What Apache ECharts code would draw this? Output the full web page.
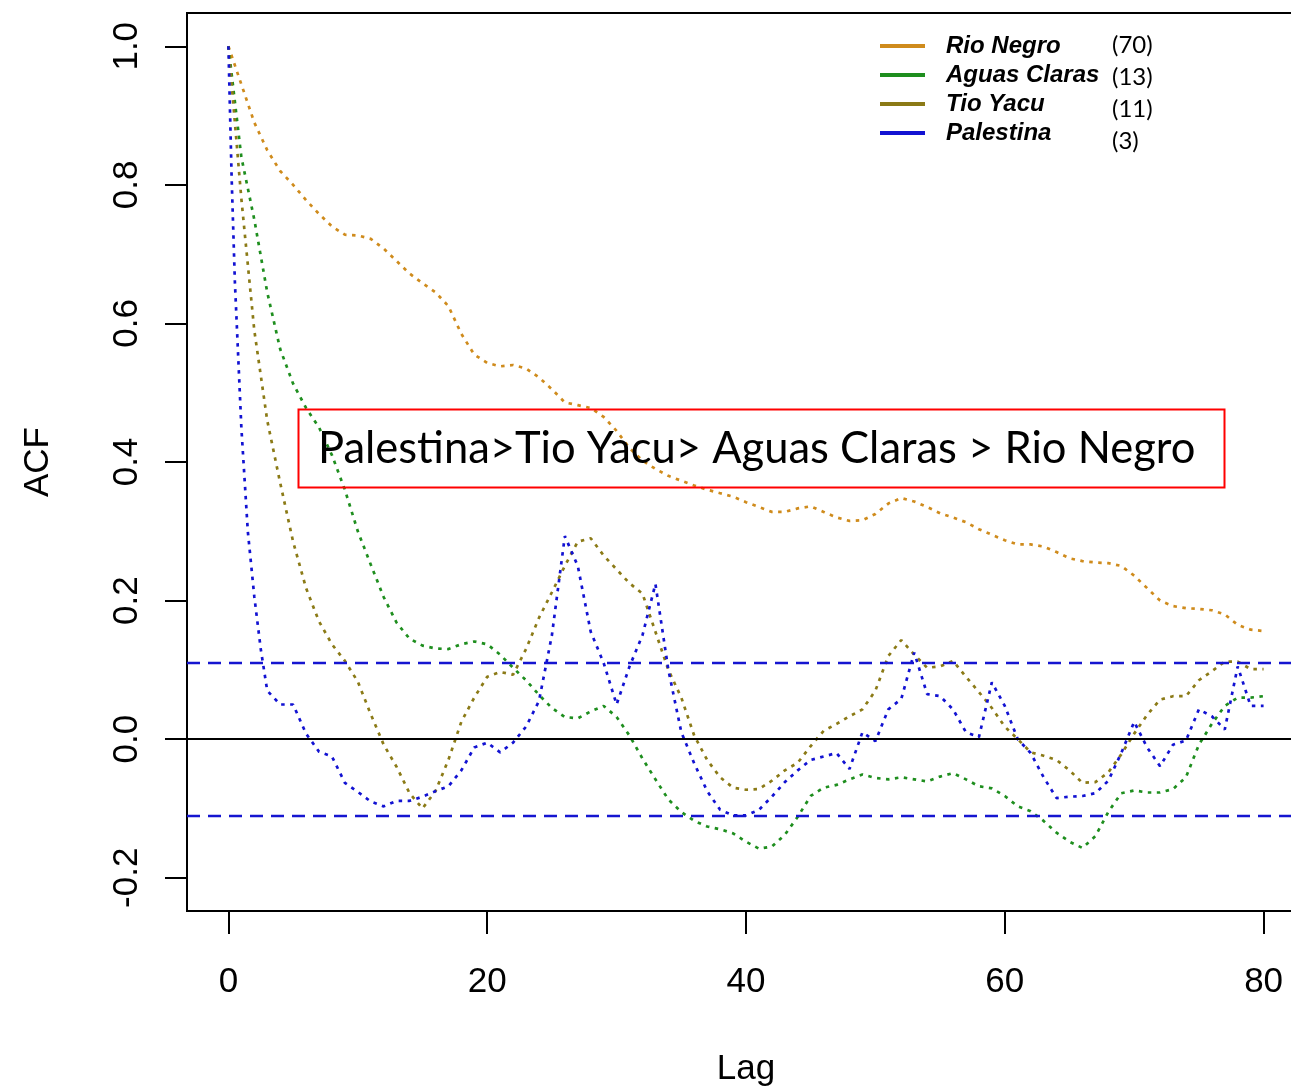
<!DOCTYPE html>
<html>
<head>
<meta charset="utf-8">
<script src="https://cdn.jsdelivr.net/npm/echarts@6/dist/echarts.min.js"></script>
<style>
  html, body { margin: 0; padding: 0; background: #ffffff; }
  #chart { width: 1291px; height: 1089px; }
</style>
</head>
<body>
<div id="chart"></div>
<script>
// Autocorrelation functions of four sites, lag 0..80
const lags = [
  0, 1, 2, 3, 4, 5, 6, 7, 8, 9, 10, 11, 12, 13, 14, 15, 16, 17, 18, 19, 20,
  21, 22, 23, 24, 25, 26, 27, 28, 29, 30, 31, 32, 33, 34, 35, 36, 37, 38, 39, 40,
  41, 42, 43, 44, 45, 46, 47, 48, 49, 50, 51, 52, 53, 54, 55, 56, 57, 58, 59, 60,
  61, 62, 63, 64, 65, 66, 67, 68, 69, 70, 71, 72, 73, 74, 75, 76, 77, 78, 79, 80
];

const rioNegro = [
  1.000, 0.945, 0.890, 0.850, 0.820, 0.800, 0.778, 0.758, 0.740, 0.728, 0.727,
  0.722, 0.708, 0.690, 0.672, 0.658, 0.645, 0.625, 0.585, 0.555, 0.543,
  0.538, 0.540, 0.535, 0.522, 0.505, 0.486, 0.482, 0.478, 0.465, 0.445,
  0.420, 0.402, 0.390, 0.380, 0.373, 0.366, 0.360, 0.355, 0.350, 0.342,
  0.335, 0.328, 0.328, 0.333, 0.336, 0.328, 0.320, 0.315, 0.316, 0.325,
  0.340, 0.348, 0.343, 0.335, 0.326, 0.320, 0.313, 0.303, 0.295, 0.287,
  0.281, 0.281, 0.278, 0.270, 0.261, 0.257, 0.255, 0.254, 0.250, 0.236,
  0.218, 0.200, 0.192, 0.189, 0.188, 0.186, 0.180, 0.165, 0.158, 0.156
];

const aguasClaras = [
  1.000, 0.840, 0.750, 0.645, 0.563, 0.513, 0.478, 0.450, 0.410, 0.360, 0.300,
  0.252, 0.205, 0.168, 0.145, 0.135, 0.131, 0.130, 0.137, 0.141, 0.137,
  0.122, 0.103, 0.085, 0.064, 0.045, 0.032, 0.030, 0.040, 0.048, 0.032,
  0.005, -0.028, -0.058, -0.087, -0.105, -0.118, -0.126, -0.130, -0.136, -0.148,
  -0.158, -0.155, -0.138, -0.112, -0.082, -0.070, -0.066, -0.058, -0.051, -0.056,
  -0.058, -0.055, -0.058, -0.061, -0.054, -0.049, -0.058, -0.068, -0.071, -0.082,
  -0.097, -0.104, -0.118, -0.135, -0.148, -0.157, -0.140, -0.105, -0.078, -0.074,
  -0.077, -0.077, -0.072, -0.055, -0.008, 0.022, 0.048, 0.060, 0.060, 0.062
];

const tioYacu = [
  1.000, 0.780, 0.590, 0.460, 0.370, 0.285, 0.218, 0.170, 0.137, 0.113, 0.083,
  0.036, -0.008, -0.040, -0.078, -0.100, -0.075, -0.030, 0.025, 0.060, 0.090,
  0.097, 0.093, 0.130, 0.175, 0.212, 0.250, 0.285, 0.290, 0.265, 0.245,
  0.225, 0.210, 0.155, 0.100, 0.060, 0.005, -0.030, -0.055, -0.070, -0.073,
  -0.072, -0.060, -0.045, -0.034, -0.010, 0.012, 0.022, 0.033, 0.043, 0.070,
  0.120, 0.143, 0.122, 0.103, 0.105, 0.113, 0.090, 0.068, 0.045, 0.018,
  0.000, -0.019, -0.024, -0.030, -0.045, -0.063, -0.062, -0.048, -0.022, 0.008,
  0.035, 0.057, 0.062, 0.062, 0.085, 0.098, 0.112, 0.112, 0.101, 0.101
];

// Palestina drops fast, so it carries a few extra points before lag 3
const palestinaLag = [
  0, 0.25, 0.5, 1, 1.5, 2, 2.5, 3, 4, 5, 6, 7, 8, 9, 10,
  11, 12, 13, 14, 15, 16, 17, 18, 19, 20, 21, 22, 23, 24, 25,
  26, 27, 28, 29, 30, 31, 32, 33, 34, 35, 36, 37, 38, 39, 40,
  41, 42, 43, 44, 45, 46, 47, 48, 49, 50, 51, 52, 53, 54, 55,
  56, 57, 58, 59, 60, 61, 62, 63, 64, 65, 66, 67, 68, 69, 70,
  71, 72, 73, 74, 75, 76, 77, 78, 79, 80
];
const palestina = [
  1.000, 0.810, 0.660, 0.450, 0.300, 0.206, 0.130, 0.070, 0.050, 0.050, 0.008, -0.018, -0.025, -0.063, -0.076,
  -0.090, -0.097, -0.089, -0.089, -0.083, -0.075, -0.068, -0.045, -0.012, -0.005, -0.019, -0.005, 0.018, 0.055, 0.150,
  0.293, 0.250, 0.155, 0.110, 0.050, 0.105, 0.150, 0.224, 0.100, 0.010, -0.035, -0.075, -0.102, -0.110, -0.110,
  -0.102, -0.083, -0.062, -0.045, -0.030, -0.025, -0.020, -0.043, 0.010, -0.003, 0.043, 0.058, 0.125, 0.065, 0.062,
  0.043, 0.010, 0.003, 0.082, 0.048, 0.000, -0.020, -0.055, -0.085, -0.083, -0.082, -0.078, -0.060, -0.020, 0.025,
  -0.012, -0.039, -0.008, -0.002, 0.043, 0.033, 0.014, 0.105, 0.048, 0.048
];

const seriesNames = ['Rio Negro', 'Aguas Claras', 'Tio Yacu', 'Palestina'];
const seriesCounts = ['(70)', '(13)', '(11)', '(3)'];
const seriesColors = ['#CF8B1C', '#1E8E1E', '#8B7A16', '#1212D2'];

const confidenceBound = 0.107;
const xTicks = [0, 20, 40, 60, 80];
const yTicks = [-0.2, 0.0, 0.2, 0.4, 0.6, 0.8, 1.0];
const rankingNote = 'Palestina>Tio Yacu> Aguas Claras > Rio Negro';

const axisFont = "'Liberation Sans', Arial, sans-serif";

function pairs(xs, ys) {
  return xs.map((x, i) => [x, ys[i]]);
}

const chart = echarts.init(document.getElementById('chart'), null, { renderer: 'canvas' });

const dotted = { width: 2.7, type: [3.5, 5.5], cap: 'butt' };

function acfSeries(name, idx, data, extra) {
  return Object.assign({
    name: name,
    type: 'line',
    data: data,
    symbol: 'none',
    smooth: false,
    clip: false,
    itemStyle: { color: seriesColors[idx] },
    lineStyle: Object.assign({ color: seriesColors[idx] }, dotted),
    emphasis: { disabled: true },
    animation: false
  }, extra || {});
}

const option = {
  backgroundColor: '#ffffff',
  animation: false,
  grid: {
    left: 187, top: 13, width: 1118, height: 898,
    outerBoundsMode: 'none', containLabel: false,
    show: true, borderColor: '#000000', borderWidth: 2, backgroundColor: 'transparent'
  },
  xAxis: {
    type: 'value', min: -3.2, max: 83.2,
    position: 'bottom',
    axisLine: { show: false, onZero: false },
    splitLine: { show: false },
    axisTick: { show: true, customValues: xTicks, length: 23, lineStyle: { color: '#000', width: 2 } },
    axisLabel: { customValues: xTicks, margin: 54, fontSize: 35, fontFamily: axisFont, color: '#000' },
    name: 'Lag', nameLocation: 'middle', nameGap: 141,
    nameTextStyle: { fontSize: 35, fontFamily: axisFont, color: '#000' }
  },
  yAxis: {
    type: 'value', min: -0.248, max: 1.048,
    position: 'left',
    axisLine: { show: false, onZero: false },
    splitLine: { show: false },
    axisTick: { show: true, customValues: yTicks, length: 22, lineStyle: { color: '#000', width: 2 } },
    axisLabel: {
      customValues: yTicks, rotate: 90, margin: 42, fontSize: 35, fontFamily: axisFont, color: '#000',
      formatter: v => v.toFixed(1)
    },
    name: 'ACF', nameLocation: 'middle', nameGap: 131, nameRotate: 90,
    nameTextStyle: { fontSize: 35, fontFamily: axisFont, color: '#000' }
  },
  legend: {
    data: seriesNames,
    orient: 'vertical',
    left: 880, top: 34,
    icon: 'rect', itemWidth: 45, itemHeight: 4, itemGap: 5,
    padding: 0,
    selectedMode: false,
    textStyle: {
      fontFamily: "'Liberation Sans', Arial, sans-serif", fontWeight: 'bold', fontStyle: 'italic',
      fontSize: 24, lineHeight: 24, color: '#000', padding: [0, 0, 0, 16]
    }
  },
  series: [
    acfSeries(seriesNames[0], 0, pairs(lags, rioNegro), {
      markLine: {
        silent: true, symbol: 'none', label: { show: false }, animation: false,
        lineStyle: { color: '#000000', width: 2, type: 'solid' },
        data: [{ yAxis: 0 }]
      }
    }),
    acfSeries(seriesNames[1], 1, pairs(lags, aguasClaras)),
    acfSeries(seriesNames[2], 2, pairs(lags, tioYacu)),
    acfSeries(seriesNames[3], 3, pairs(palestinaLag, palestina), {
      markLine: {
        silent: true, symbol: 'none', label: { show: false }, animation: false,
        lineStyle: { color: '#1515D0', width: 2.4, type: [13, 8] },
        data: [{ yAxis: confidenceBound }, { yAxis: -confidenceBound }]
      }
    })
  ],
  graphic: [
    {
      type: 'rect', left: 296, top: 407, silent: true, z: 10,
      shape: { width: 926, height: 78 },
      style: { fill: null, stroke: '#FF0000', lineWidth: 2 }
    },
    {
      type: 'text', left: 318, top: 427, silent: true, z: 10,
      style: { text: rankingNote, font: "43.5px Lato, 'Open Sans', sans-serif", fill: '#000' }
    }
  ].concat(seriesCounts.map((c, i) => ({
    type: 'text', left: 1112, top: [33, 65, 97, 129][i], silent: true, z: 10,
    style: { text: c, font: "24px Lato, 'Open Sans', sans-serif", fill: '#000' }
  })))
};

chart.setOption(option);
</script>
</body>
</html>
